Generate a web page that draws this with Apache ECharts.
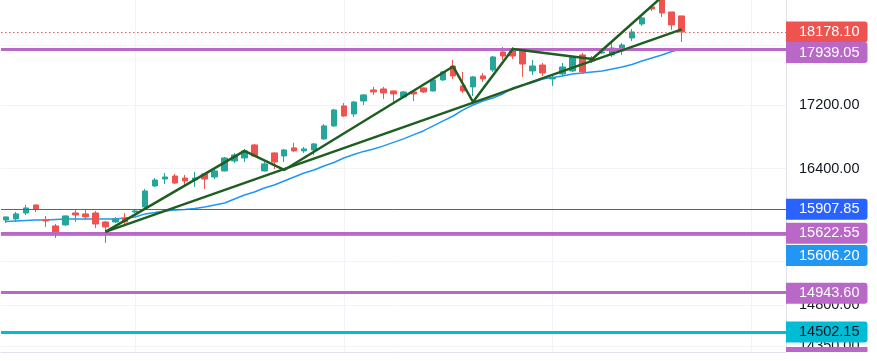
<!DOCTYPE html>
<html>
<head>
<meta charset="utf-8">
<script src="https://cdn.jsdelivr.net/npm/echarts@6.0.0/dist/echarts.min.js"></script>
<style>
html,body{margin:0;padding:0;background:#ffffff;}
#c{width:877px;height:361px;}
</style>
</head>
<body>
<div id="c"></div>
<script>
// ---------------- DATA ----------------
const candleCount = 69;
const slotCount = 79; // includes empty slots on the right
const categories = Array.from({length: slotCount}, (_, i) => 'D' + (i + 1));

const opens  = [15779,15791,15862,15958,15779,15708,15720,15862,15851,15862,15755,15755,15803,15874,15934,16188,16273,16310,16285,16261,16335,16298,16372,16496,16533,16696,16372,16596,16558,16659,16621,16633,16772,16937,17194,17090,17258,17402,17415,17389,17310,17376,17428,17389,17534,17719,17455,17442,17587,17666,17907,17948,17921,17653,17732,17547,17613,17653,17867,17826,17894,17867,17921,18097,18289,18525,18692,18455,18400];
const closes = [15815,15851,15922,15910,15767,15613,15827,15838,15815,15731,15696,15791,15755,15886,16127,16261,16298,16224,16249,16285,16273,16372,16533,16571,16621,16558,16459,16483,16633,16621,16646,16709,16937,17142,17064,17245,17337,17376,17363,17350,17376,17350,17376,17534,17640,17587,17389,17574,17547,17840,17853,17853,17746,17719,17626,17561,17706,17840,17640,17786,17907,17961,18002,18179,18372,18497,18441,18275,18178.10];
const lows   = [15743,15755,15838,15874,15696,15566,15708,15755,15779,15684,15508,15743,15720,15862,15922,16176,16212,16212,16176,16176,16152,16273,16366,16471,16483,16545,16366,16396,16483,16608,16596,16571,16759,16924,17052,17052,17206,17337,17284,17245,17304,17258,17363,17382,17521,17547,17363,17323,17508,17640,17800,17813,17574,17600,17587,17455,17587,17640,17613,17759,17880,17840,17867,18056,18262,18469,18386,18207,18043];
const highs  = [15818,15874,15958,15964,15827,15731,15833,15898,15898,15886,15767,15815,15862,15898,16152,16285,16347,16335,16323,16359,16347,16396,16545,16596,16646,16709,16483,16602,16646,16722,16671,16722,16962,17155,17232,17258,17350,17442,17442,17395,17389,17382,17435,17547,17653,17800,17640,17587,17626,17853,17974,17974,17927,17800,17759,17587,17759,17853,17894,17853,17934,18029,18029,18220,18386,18552,18763,18455,18400];

const movingAverage = [15761,15767,15773,15779,15779,15785,15791,15791,15791,15791,15791,15791,15803,15815,15851,15868,15886,15898,15904,15916,15934,15958,15982,16030,16079,16115,16164,16200,16249,16298,16347,16384,16434,16477,16533,16577,16615,16646,16684,16728,16772,16823,16873,16937,17001,17064,17142,17206,17258,17297,17350,17428,17468,17501,17547,17567,17587,17613,17626,17640,17653,17680,17706,17739,17786,17826,17867,17914,17948];

// trend lines: [candle index, price]
const zigzagTrend = [[10,15637],[24,16621],[28,16384],[45,17713],[47,17245],[51,17948],[59,17813],[66,18664]];
const longTrend   = [[10,15637],[68,18214]];

// horizontal price levels
const levelValues = [18178.10, 17939.05, 15907.85, 15606.20, 15622.55, 14943.60, 14502.15];
const hiddenLevel = 14312;

// axis ticks
const tickValues = [18000, 17200, 16400, 15300, 14800, 14350];
const monthStartIdx = [13, 34, 55, 75];

// ---------------- STYLE ----------------
const FONT = '"Liberation Sans", Arial, sans-serif';
const UP = '#26a69a', DOWN = '#ef5350', PURPLE = '#ba68c8';
const levelStyles = [
  {line: DOWN, width: 1, type: [1.5, 2.5], bg: DOWN, fg: '#ffffff', dy: 0},
  {line: PURPLE, width: 3, type: 'solid', bg: PURPLE, fg: '#ffffff', dy: 3},
  {line: '#2962ff', width: 1, type: 'solid', bg: '#2962ff', fg: '#ffffff', dy: 0},
  {line: '#2196f3', width: 1.5, type: 'solid', bg: '#2196f3', fg: '#ffffff', dy: 21},
  {line: PURPLE, width: 3, type: 'solid', bg: PURPLE, fg: '#ffffff', dy: 0},
  {line: PURPLE, width: 3, type: 'solid', bg: PURPLE, fg: '#ffffff', dy: 1},
  {line: '#00bcd4', width: 3, type: 'solid', bg: '#00bcd4', fg: '#131722', dy: 0}
];

const labelBase = {
  show: true, position: 'end', distance: 0,
  fontFamily: FONT, fontSize: 14.5, lineHeight: 15,
  padding: [3, 8, 3, 13]
};

const candleData = opens.map((o, i) => [o, closes[i], lows[i], highs[i]]);

const gridLines = tickValues.map(v => ({
  yAxis: v,
  lineStyle: {color: '#f0f3fa', width: 1, type: 'solid'},
  label: Object.assign({}, labelBase, {formatter: v.toFixed(2), color: '#131722'})
})).concat(monthStartIdx.map(i => ({
  xAxis: categories[i],
  lineStyle: {color: '#f0f3fa', width: 1, type: 'solid'},
  label: {show: false}
})));

const levelLines = levelValues.map((v, k) => {
  const s = levelStyles[k];
  return {
    yAxis: v,
    lineStyle: {color: s.line, width: s.width, type: s.type},
    label: Object.assign({}, labelBase, {
      formatter: v.toFixed(2), color: s.fg, backgroundColor: s.bg,
      borderRadius: [0, 3, 3, 0], offset: [0, s.dy]
    })
  };
}).concat([{
  yAxis: hiddenLevel,
  lineStyle: {color: 'rgba(0,0,0,0)', width: 0},
  label: {show: true, position: 'end', distance: 0, formatter: 'x', color: PURPLE,
          fontSize: 1, lineHeight: 1, padding: [2, 41, 2, 40], backgroundColor: PURPLE,
          opacity: 1}
}]);

const chart = echarts.init(document.getElementById('c'), null, {renderer: 'canvas'});
chart.setOption({
  animation: false,
  backgroundColor: '#ffffff',
  grid: {left: 1, right: 91, top: 0, bottom: 9},
  xAxis: {
    type: 'category', data: categories, boundaryGap: true,
    axisLine: {show: true, lineStyle: {color: '#e0e3eb'}},
    axisTick: {show: false}, axisLabel: {show: false}, splitLine: {show: false}
  },
  yAxis: {
    type: 'log', logBase: 10, min: 14285, max: 18622, position: 'right',
    axisLine: {show: true, lineStyle: {color: '#e0e3eb'}},
    axisTick: {show: false}, axisLabel: {show: false}, splitLine: {show: false}
  },
  series: [
    {
      name: 'grid', type: 'line', data: [], z: 0, silent: true,
      markLine: {silent: true, z: 1, symbol: ['none', 'none'], animation: false, data: gridLines}
    },
    {
      name: 'MA', type: 'line', data: movingAverage, z: 2,
      showSymbol: false, smooth: false, silent: true,
      lineStyle: {color: '#2196f3', width: 1.5}
    },
    {
      name: 'price', type: 'candlestick', data: candleData, z: 3, barWidth: 6,
      itemStyle: {color: UP, color0: DOWN, borderColor: UP, borderColor0: DOWN, borderWidth: 1},
      markLine: {silent: true, z: 6, symbol: ['none', 'none'], animation: false, data: levelLines}
    },
    {
      name: 'zigzag', type: 'line', data: zigzagTrend, z: 8, showSymbol: false, silent: true,
      lineStyle: {color: '#1e5e20', width: 2.5}
    },
    {
      name: 'trend', type: 'line', data: longTrend, z: 8, showSymbol: false, silent: true,
      lineStyle: {color: '#1e5e20', width: 2.5}
    }
  ]
});
</script>
</body>
</html>
